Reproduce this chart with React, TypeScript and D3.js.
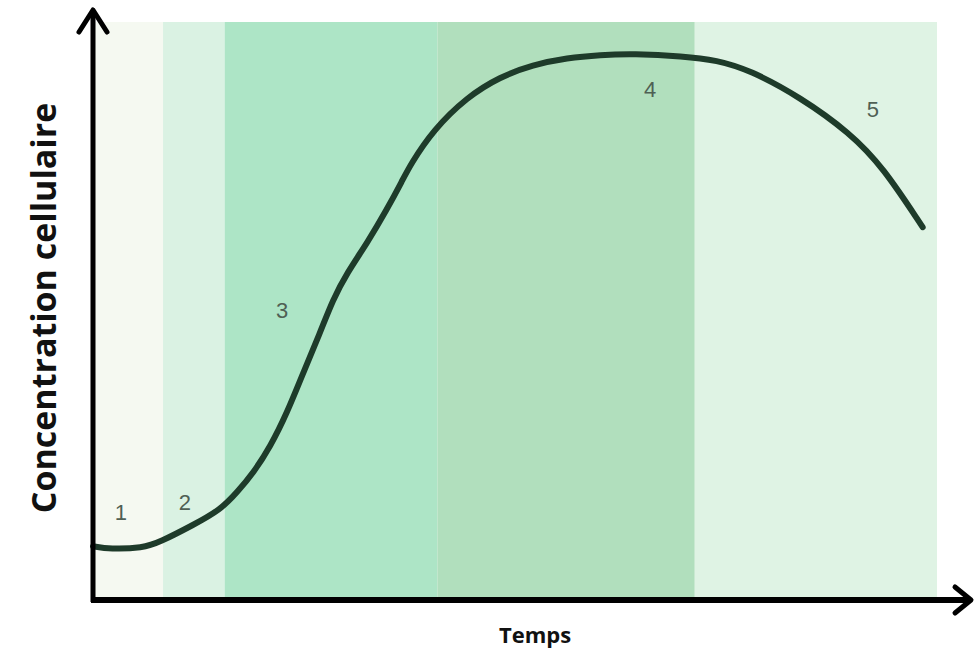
import React from "react";
import * as d3 from "d3";

// growth curve (time and concentration in arbitrary units, 0-100)
const times = [0, 2.0, 5.9, 7.9, 11.9, 15.1, 17.1, 19.0, 21.0, 23.0, 24.9, 26.9, 28.4, 30.1, 32.5, 34.8, 36.7, 37.6, 40.3, 44.3, 48.2, 52.1, 56.2, 60.1, 64.0, 69.9, 73.9, 77.8, 83.8, 89.7, 93.6, 98.3];
const concentration = [9.3, 8.8, 9.0, 10.0, 13.0, 15.6, 18.7, 22.0, 26.5, 32.4, 39.3, 46.2, 51.9, 56.6, 61.8, 67.5, 72.7, 75.3, 81.3, 87.0, 90.5, 92.6, 93.8, 94.3, 94.5, 94.1, 93.4, 91.7, 87.0, 80.8, 74.9, 64.5];

// phases
const phaseNames = ["1", "2", "3", "4", "5"];
const phaseStart = [0.2, 8.3, 15.6, 40.8, 71.3];
const phaseEnd = [8.3, 15.6, 40.8, 71.3, 100];
const phaseColors = ["#f5f9f1", "#daf2e3", "#ade5c6", "#b1dfbd", "#dff3e4"];
// where the phase numbers sit
const labelT = [3.3, 10.9, 22.4, 66.0, 92.4];
const labelC = [13.8, 15.6, 48.8, 87.0, 83.6];

const width = 975;
const height = 655;

const App = () => {
  const x = d3.scaleLinear().domain([0, 100]).range([93, 937]);
  const y = d3.scaleLinear().domain([0, 100]).range([600, 22]);

  const pts: [number, number][] = times.map((t, i) => [t, concentration[i]]);
  const line = d3
    .line<[number, number]>()
    .x((d) => x(d[0]))
    .y((d) => y(d[1]))
    .curve(d3.curveBasis);

  const x0 = x(0);
  const y0 = y(0);

  return (
    <svg
      width={width}
      height={height}
      style={{ position: "absolute", left: 0, top: 0, background: "#fff" }}
    >
      {phaseNames.map((p, i) => (
        <rect
          key={p}
          x={x(phaseStart[i])}
          y={y(100)}
          width={x(phaseEnd[i]) - x(phaseStart[i])}
          height={y(0) - y(100)}
          fill={phaseColors[i]}
        />
      ))}

      <path
        d={line(pts) || ""}
        fill="none"
        stroke="#1e3b2a"
        strokeWidth={6}
        strokeLinecap="round"
      />

      {phaseNames.map((p, i) => (
        <text
          key={"l" + p}
          x={x(labelT[i])}
          y={y(labelC[i])}
          fontSize="22"
          fontFamily="Liberation Sans, Arial, sans-serif"
          fill="#4f6054"
          textAnchor="middle"
        >
          {p}
        </text>
      ))}

      {/* axes */}
      <line x1={x0} y1={y0 + 2} x2={x0} y2={10} stroke="#000" strokeWidth={5} />
      <polyline
        points={`${x0 - 14},32 ${x0},10 ${x0 + 14},32`}
        fill="none"
        stroke="#000"
        strokeWidth={5}
        strokeLinecap="round"
        strokeLinejoin="round"
      />
      <line x1={x0 - 2} y1={y0} x2={970} y2={y0} stroke="#000" strokeWidth={6} />
      <polyline
        points={`955,587 971,${y0} 955,613`}
        fill="none"
        stroke="#000"
        strokeWidth={5}
        strokeLinecap="round"
        strokeLinejoin="round"
      />

      <text
        transform={`translate(56, 308) rotate(-90)`}
        textAnchor="middle"
        fontSize="34"
        fontWeight="bold"
        fontFamily="Open Sans, sans-serif"
        fill="#111"
      >
        Concentration cellulaire
      </text>
      <text
        x={535}
        y={643}
        textAnchor="middle"
        fontSize="22"
        fontWeight="bold"
        fontFamily="Open Sans, sans-serif"
        fill="#111"
      >
        Temps
      </text>
    </svg>
  );
};

export default App;
